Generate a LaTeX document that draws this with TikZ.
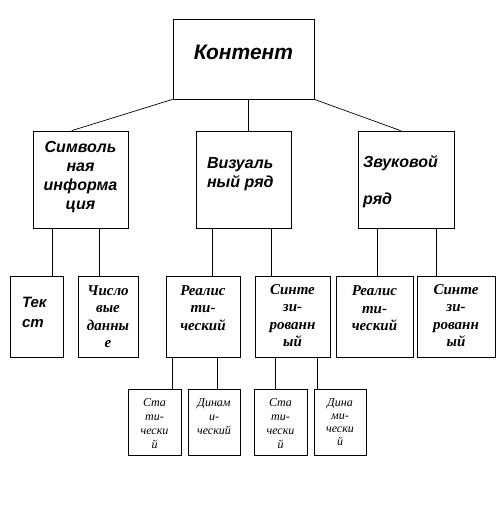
\documentclass[tikz,border=0pt]{standalone}
\usepackage{fontspec}
\setmainfont{Liberation Serif}
\setsansfont{Liberation Sans}

\tikzset{
  box/.style={draw, line width=.7pt, inner sep=0pt},
  txt/.style={inner sep=0pt, align=center},
  topfont/.style={font=\fontsize{21}{25}\selectfont\sffamily\bfseries\itshape},
  midfont/.style={font=\fontsize{16}{19}\selectfont\sffamily\bfseries\itshape},
  leaffont/.style={font=\fontsize{15}{20}\selectfont\sffamily\bfseries\itshape},
  lowfont/.style={font=\fontsize{15}{17.5}\selectfont\bfseries\itshape},
  tinyfont/.style={font=\fontsize{12}{14}\selectfont\itshape},
}

\begin{document}
\begin{tikzpicture}[x=1pt, y=-1pt, line width=.7pt]
  \useasboundingbox (0,0) rectangle (502,521);
  % top
  \node[box, minimum width=141pt, minimum height=80pt] (kont) at (243.5,59) {};
  \node[txt, topfont] (kont-t) at ([yshift=7pt]kont.center) {Контент};
  % second level
  \node[box, minimum width=95pt, minimum height=97pt] (sym) at (80.5,179.5) {};
  \node[box, minimum width=95pt, minimum height=97pt] (vis) at (243.5,179.5) {};
  \node[box, minimum width=96pt, minimum height=97pt] (zvuk) at (406,179.5) {};
  \node[txt, midfont] (sym-t) at ([yshift=2pt]sym.center) {Символь\\ная\\информа\\ция};
  \node[txt, midfont, align=left, anchor=west] (vis-t) at ([xshift=11pt, yshift=5pt]vis.west) {Визуаль\\ный ряд};
  \node[txt, midfont, align=left, anchor=west] (zvuk-t) at ([xshift=5pt, yshift=-2pt]zvuk.west) {Звуковой\\[18pt]ряд};
  % third level
  \node[box, minimum width=53pt, minimum height=81pt] (tekst) at (36.5,316.5) {};
  \node[box, minimum width=60pt, minimum height=81pt] (chisl) at (108,316.5) {};
  \node[box, minimum width=74pt, minimum height=81pt] (real1) at (203,316.5) {};
  \node[box, minimum width=75pt, minimum height=81pt] (sint1) at (292.5,316.5) {};
  \node[box, minimum width=77pt, minimum height=81pt] (real2) at (374.5,316.5) {};
  \node[box, minimum width=78pt, minimum height=81pt] (sint2) at (456,316.5) {};
  \node[txt, leaffont, align=left, anchor=west] (tekst-t) at ([xshift=12pt, yshift=4pt]tekst.west) {Тек\\ст};
  \node[txt, lowfont] (chisl-t) at (chisl.center) {Число\\вые\\данны\\е};
  \node[txt, lowfont] (real1-t) at ([yshift=8.5pt]real1.center) {Реалис\\ти-\\ческий};
  \node[txt, lowfont] (sint1-t) at ([yshift=1pt]sint1.center) {Синте\\зи-\\рованн\\ый};
  \node[txt, lowfont] (real2-t) at ([yshift=8pt]real2.center) {Реалис\\ти-\\ческий};
  \node[txt, lowfont] (sint2-t) at ([yshift=1pt]sint2.center) {Синте\\зи-\\рованн\\ый};
  % bottom level
  \node[box, minimum width=53pt, minimum height=66pt] (stat1) at (154.5,422) {};
  \node[box, minimum width=52pt, minimum height=66pt] (dyn1) at (214,422) {};
  \node[box, minimum width=53pt, minimum height=66pt] (stat2) at (280.5,422) {};
  \node[box, minimum width=52pt, minimum height=66pt] (dyn2) at (340,422) {};
  \node[txt, tinyfont] (stat1-t) at ([yshift=-2pt]stat1.center) {Ста\\ти-\\чески\\й};
  \node[txt, tinyfont] (dyn1-t) at ([yshift=5pt]dyn1.center) {Динам\\и-\\ческий};
  \node[txt, tinyfont] (stat2-t) at ([yshift=-2pt]stat2.center) {Ста\\ти-\\чески\\й};
  \node[txt, tinyfont, font=\fontsize{12}{13}\selectfont\itshape] (dyn2-t) at (dyn2.center) {Дина\\ми-\\чески\\й};
  % connectors
  \draw (kont.south west) -- ([xshift=39pt]sym.north west);
  \draw ([xshift=4.5pt]kont.south) -- ([xshift=4.5pt]vis.north);
  \draw (kont.south east) -- ([xshift=43pt]zvuk.north west);
  \foreach \from/\to/\dx in {sym/tekst/20, sym/chisl/67, vis/real1/17, vis/sint1/76,
      zvuk/real2/20, zvuk/sint2/79, real1/stat1/7, real1/dyn1/52, sint1/stat2/21, sint1/dyn2/63}
    \draw ([xshift=\dx pt]\from.south west) coordinate (p) -- (p |- \to.north);
\end{tikzpicture}
\end{document}
